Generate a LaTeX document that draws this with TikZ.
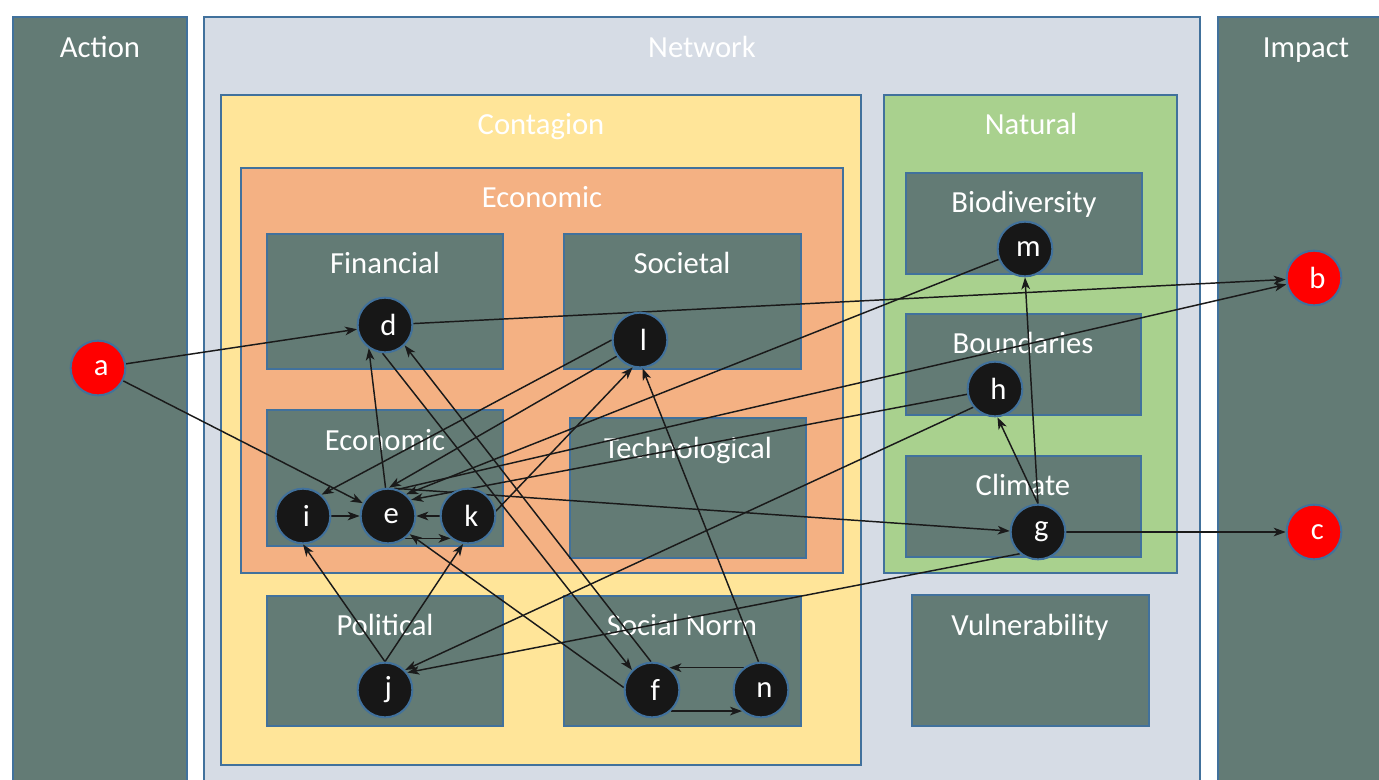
\documentclass[tikz,border=0pt]{standalone}
\usepackage{fontspec}
\setmainfont{Carlito}
\usetikzlibrary{arrows.meta}
\definecolor{boxfill}{HTML}{637B75}
\definecolor{boxline}{HTML}{41719C}
\definecolor{netfill}{HTML}{D6DCE5}
\definecolor{contfill}{HTML}{FFE599}
\definecolor{econfill}{HTML}{F4B183}
\definecolor{natfill}{HTML}{A9D18E}
\definecolor{nodefill}{HTML}{171717}
\definecolor{edgecol}{HTML}{1A1A1A}
\pgfdeclarelayer{bg}
\pgfdeclarelayer{edgelayer}
\pgfsetlayers{bg,edgelayer,main}
\begin{document}
\begin{tikzpicture}[x=0.75pt,y=-0.75pt,
  panel/.style={draw=boxline, line width=1.5pt},
  title/.style={text=white, font=\fontsize{23}{27}\selectfont, anchor=base, inner sep=0pt},
  vert/.style={circle, draw=boxline, line width=1.5pt, fill=nodefill, minimum size=41pt,
    inner sep=0pt, text=white, font=\fontsize{23}{27}\selectfont,
    execute at begin node=\hspace{5pt}},
  ext/.style={vert, fill=red},
  link/.style={draw=edgecol, line width=1.1pt, -{Stealth[length=9pt,width=6.5pt,inset=2.5pt]}}]
\useasboundingbox (0,0) rectangle (1379,779);
\clip (0,0) rectangle (1379,779);
\begin{pgfonlayer}{bg}
\fill[white] (0,0) rectangle (1379,779);
% outer columns
\draw[panel, fill=boxfill] (13,17) rectangle (187,800);
\node[title] (tAction) at (100,57) {Action};
\draw[panel, fill=netfill] (204,17) rectangle (1200,800);
\node[title] (tNetwork) at (702,57) {Network};
\draw[panel, fill=boxfill] (1218,17) rectangle (1400,800);
\node[title] (tImpact) at (1306,57) {Impact};
% contagion
\draw[panel, fill=contfill] (221,95) rectangle (861,765);
\node[title] (tContagion) at (541,134) {Contagion};
\draw[panel, fill=econfill] (241,168) rectangle (843,573);
\node[title] (tEconomicOuter) at (542,207) {Economic};
\draw[panel, fill=boxfill] (267,234) rectangle (503,369);
\node[title] (tFinancial) at (385,273) {Financial};
\draw[panel, fill=boxfill] (564,234) rectangle (801,369);
\node[title] (tSocietal) at (682,273) {Societal};
\draw[panel, fill=boxfill] (267,410) rectangle (503,546);
\node[title] (tEconomicInner) at (385,450) {Economic};
\draw[panel, fill=boxfill] (570,418) rectangle (806,558);
\node[title] (tTechnological) at (688,458) {Technological};
\draw[panel, fill=boxfill] (267,596) rectangle (503,726);
\node[title] (tPolitical) at (385,635) {Political};
\draw[panel, fill=boxfill] (564,596) rectangle (801,726);
\node[title] (tSocialNorm) at (682,635) {Social Norm};
% natural
\draw[panel, fill=natfill] (884,95) rectangle (1177,573);
\node[title] (tNatural) at (1031,134) {Natural};
\draw[panel, fill=boxfill] (906,173) rectangle (1142,274);
\node[title] (tBiodiversity) at (1024,212) {Biodiversity};
\draw[panel, fill=boxfill] (906,314) rectangle (1141,415);
\node[title] (tBoundaries) at (1023,353) {Boundaries};
\draw[panel, fill=boxfill] (906,456) rectangle (1141,557);
\node[title] (tClimate) at (1023,495) {Climate};
\draw[panel, fill=boxfill] (912,595) rectangle (1149,726);
\node[title] (tVulnerability) at (1030,635) {Vulnerability};
\end{pgfonlayer}
% nodes
\node[ext] (a) at (98,368) {a};
\node[ext] (b) at (1314,278) {b};
\node[ext] (c) at (1314,532) {c};
\node[vert] (d) at (385,325) {d};
\node[vert] (e) at (388,516) {e};
\node[vert] (i) at (303,516) {i};
\node[vert] (k) at (468,516) {k};
\node[vert] (l) at (640,340) {l};
\node[vert] (j) at (385,690) {j};
\node[vert] (f) at (652,690) {f};
\node[vert] (n) at (761,690) {n};
\node[vert] (m) at (1025,249) {m};
\node[vert] (h) at (995,389) {h};
\node[vert] (g) at (1038,532) {g};
% connectors
\begin{pgfonlayer}{edgelayer}
\draw[link] (a) -- (d);
\draw[link] (a) -- (e);
\draw[link] (d) -- (b);
\draw[link] (e.70) -- (b);
\draw[link] (e.95) -- (d.235);
\draw[link] (d.265) -- (f.135);
\draw[link] (f.92) -- (d.314);
\draw[link] (f.175) -- (e.-40);
\draw[link] (e.-52) -- (k.-128);
\draw[link] (k) -- (e);
\draw[link] (i) -- (e);
\draw[link] (l.180) -- (i.49);
\draw[link] (l.215) -- (e.88);
\draw[link] (k.10) -- (l.255);
\draw[link] (n.95) -- (l.-85);
\draw[link] (j.north) -- (i.south);
\draw[link] (j.north) -- (k.-100);
\draw[link] (h.220) -- (j.45);
\draw[link] (g.230) -- (j.38);
\draw[link] (h) -- (e.35);
\draw[link] (m) -- (e.50);
\draw[link] (e.78) -- (g.178);
\draw[link] (g.north) -- (h.-85);
\draw[link] (g.north) -- (m.south);
\draw[link] (g) -- (c);
\draw[link] (n.128) -- (f.52);
\draw[link] (f.-48) -- (n.-132);
\end{pgfonlayer}
\end{tikzpicture}
\end{document}
